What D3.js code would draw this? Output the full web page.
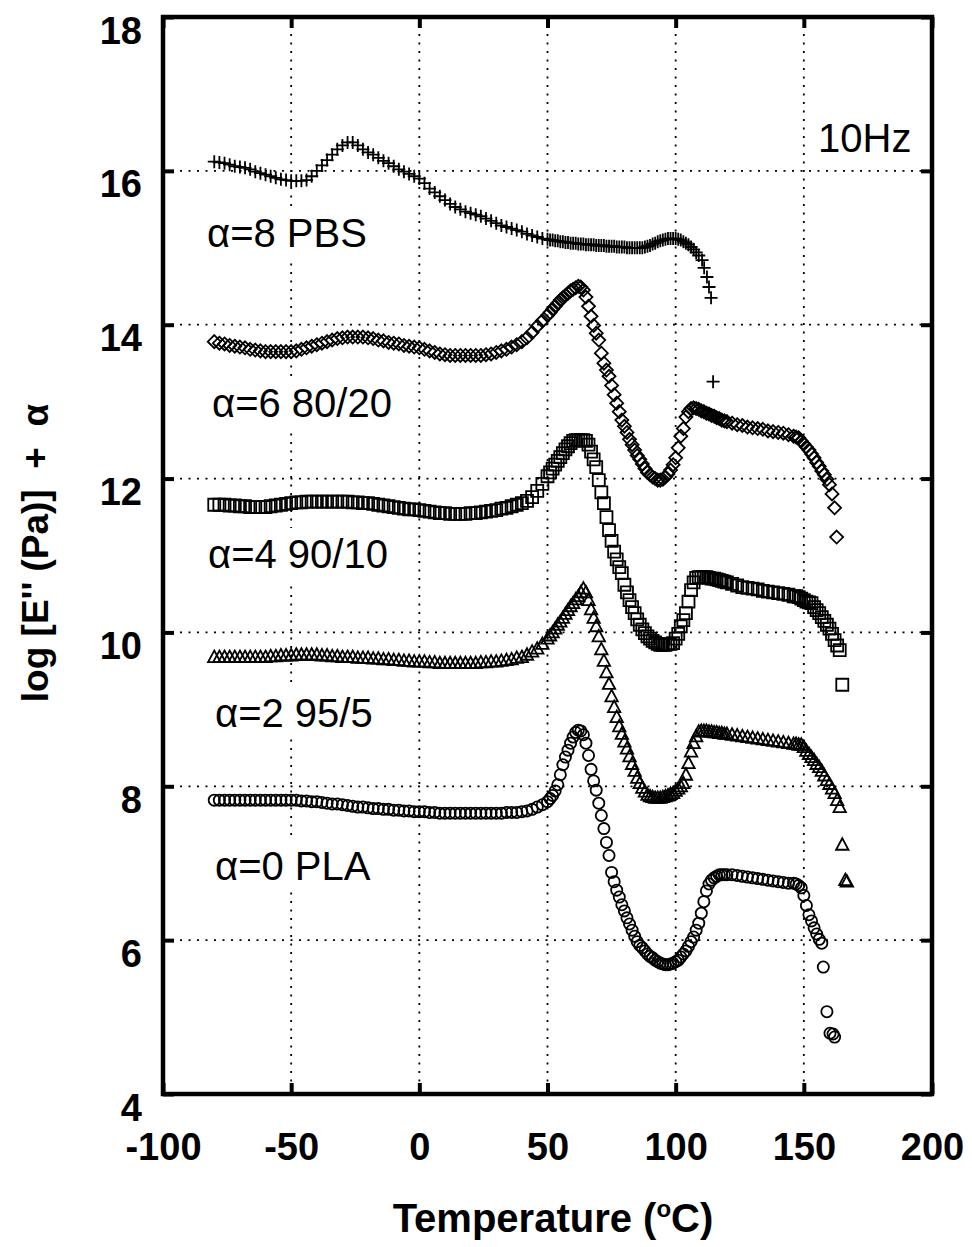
<!DOCTYPE html>
<html>
<head>
<meta charset="utf-8">
<script src="https://cdn.jsdelivr.net/npm/d3@7/dist/d3.min.js"></script>
<style>
  body { margin: 0; background: #fff; }
  svg { display: block; }
  text { font-family: "Liberation Sans", Arial, sans-serif; }
</style>
</head>
<body>
<svg id="chart" width="972" height="1247"></svg>
<script>
// Temperature sweep (°C) shared by all five curves
const temps = [
  -80,-78,-76,-74,-72,-70,-68,-66,-64,-62,-60,-58,-56,-54,-52,-50,-48,-46,-44,-42,
  -40,-38,-36,-34,-32,-30,-28,-26,-24,-22,-20,-18,-16,-14,-12,-10,-8,-6,-4,-2,
  0,2,4,6,8,10,12,14,16,18,20,22,24,26,28,30,32,34,36,38,40,42,44,46,48,50,
  51,52,53,54,55,56,57,58,59,60,61,62,63,64,65,66,67,68,69,70,
  71,72,73,74,75,76,77,78,79,80,81,82,83,84,85,86,87,88,89,90,
  91,92,93,94,95,96,97,98,99,100,101,102,103,104,105,106,107,108,109,110,
  111,112,113,114,115,116,117,118,119,120,
  122,124,126,128,130,132,134,136,138,140,142,144,146,
  147,148,149,150,151,152,153,154,155,156,157,158,159,160,161,162,163,164
];

// log E'' + alpha, one array per sample (aligned with temps)
const pbs = [
  16.12,16.11,16.10,16.08,16.06,16.05,16.04,16.02,15.99,15.97,
  15.95,15.93,15.91,15.89,15.88,15.87,15.87,15.87,15.88,15.93,
  16.00,16.07,16.14,16.21,16.28,16.33,16.37,16.37,16.33,16.28,
  16.24,16.21,16.17,16.13,16.10,16.06,16.02,15.99,15.96,15.93,
  15.90,15.84,15.77,15.72,15.67,15.62,15.57,15.53,15.50,15.47,
  15.45,15.43,15.41,15.38,15.35,15.32,15.29,15.27,15.25,15.23,
  15.21,15.18,15.16,15.14,15.12,15.11,
  15.10,15.10,15.09,15.09,15.08,15.08,15.07,15.07,15.06,15.06,
  15.06,15.05,15.05,15.05,15.04,15.04,15.04,15.04,15.03,15.03,
  15.03,15.03,15.02,15.02,15.02,15.02,15.01,15.01,15.01,15.01,
  15.00,15.00,15.00,15.00,15.00,15.00,15.00,15.01,15.02,15.03,
  15.05,15.06,15.08,15.09,15.10,15.11,15.12,15.12,15.12,15.12,
  15.11,15.10,15.08,15.06,15.04,15.01,14.98,14.94,14.90
];
const pbsTail = [[110.3,14.84],[111.1,14.74],[112.2,14.62],[113.0,14.49],[113.8,14.35],[114.6,13.26]];

const blend8020 = [
  13.78,13.76,13.75,13.73,13.72,13.71,13.70,13.68,13.67,13.66,
  13.65,13.65,13.65,13.65,13.65,13.65,13.66,13.68,13.70,13.72,
  13.74,13.76,13.78,13.80,13.82,13.83,13.84,13.84,13.84,13.84,
  13.83,13.82,13.80,13.79,13.77,13.76,13.75,13.73,13.72,13.71,
  13.70,13.68,13.66,13.64,13.62,13.61,13.60,13.60,13.60,13.60,
  13.60,13.60,13.60,13.61,13.62,13.64,13.66,13.68,13.71,13.74,
  13.78,13.83,13.90,13.98,14.05,14.12,
  14.16,14.20,14.24,14.28,14.32,14.35,14.38,14.41,14.44,14.46,
  14.48,14.50,14.49,14.45,14.36,14.24,14.11,13.99,13.89,13.80,
  13.63,13.50,13.41,13.33,13.21,13.09,12.98,12.87,12.76,12.68,
  12.60,12.51,12.44,12.37,12.30,12.25,12.19,12.13,12.08,12.05,
  12.02,12.00,11.98,11.98,11.99,12.02,12.06,12.11,12.18,12.27,
  12.40,12.55,12.65,12.80,12.87,12.91,12.92,12.91,12.90,12.88,
  12.87,12.85,12.84,12.82,12.81,12.79,12.78,12.76,12.75,12.74,
  12.72,12.70,12.69,12.67,12.66,12.65,12.64,12.62,12.61,12.60,12.59,12.57,12.55,
  12.54,12.53,12.49,12.45,12.41,12.37,12.32,12.27,12.21,12.16,12.10,12.05,11.99,11.92,11.80,11.62
];
const blend8020Tail = [[162.8,11.24]];

const blend9010 = [
  11.66,11.66,11.66,11.65,11.65,11.64,11.64,11.63,11.63,11.63,
  11.63,11.64,11.65,11.66,11.67,11.68,11.69,11.69,11.70,11.70,
  11.70,11.70,11.70,11.70,11.70,11.70,11.70,11.69,11.69,11.68,
  11.68,11.67,11.66,11.65,11.64,11.63,11.62,11.61,11.60,11.60,
  11.59,11.58,11.57,11.56,11.55,11.55,11.54,11.54,11.54,11.54,
  11.55,11.55,11.56,11.57,11.58,11.59,11.61,11.62,11.64,11.66,
  11.68,11.71,11.76,11.84,11.93,12.03,
  12.08,12.13,12.18,12.23,12.28,12.33,12.38,12.42,12.46,12.49,
  12.50,12.50,12.50,12.50,12.49,12.44,12.35,12.25,12.15,11.98,
  11.82,11.68,11.50,11.33,11.19,11.05,10.95,10.85,10.77,10.62,
  10.52,10.42,10.33,10.25,10.17,10.10,10.04,9.99,9.95,9.92,
  9.89,9.87,9.85,9.84,9.84,9.84,9.85,9.85,9.86,9.92,
  9.98,10.08,10.16,10.25,10.40,10.55,10.65,10.71,10.72,10.72,
  10.72,10.72,10.71,10.70,10.70,10.69,10.68,10.67,10.66,10.65,
  10.63,10.61,10.59,10.58,10.57,10.56,10.54,10.53,10.52,10.51,10.50,10.49,10.47,
  10.47,10.46,10.44,10.42,10.40,10.39,10.38,10.33,10.29,10.25,10.20,10.15,10.10,10.05,9.98,9.90,9.83,9.77
];
const blend9010Tail = [[165.0,9.32]];

const blend955 = [
  9.68,9.68,9.68,9.68,9.68,9.68,9.68,9.68,9.68,9.68,
  9.68,9.69,9.69,9.70,9.70,9.70,9.71,9.71,9.71,9.71,
  9.71,9.70,9.70,9.69,9.69,9.68,9.68,9.68,9.67,9.67,
  9.67,9.66,9.66,9.65,9.65,9.64,9.64,9.63,9.63,9.62,
  9.62,9.62,9.61,9.61,9.60,9.60,9.60,9.60,9.60,9.60,
  9.60,9.60,9.61,9.61,9.62,9.62,9.63,9.64,9.65,9.67,
  9.68,9.71,9.75,9.79,9.85,9.92,
  9.96,10.00,10.05,10.10,10.14,10.19,10.24,10.29,10.34,10.38,
  10.43,10.47,10.52,10.57,10.52,10.42,10.30,10.19,10.08,9.95,
  9.78,9.63,9.48,9.33,9.17,9.03,8.90,8.78,8.68,8.58,
  8.49,8.39,8.29,8.20,8.11,8.04,7.98,7.93,7.89,7.87,
  7.86,7.85,7.85,7.85,7.86,7.87,7.88,7.90,7.91,7.94,
  7.97,8.00,8.04,8.15,8.30,8.45,8.56,8.65,8.71,8.72,
  8.72,8.72,8.71,8.71,8.70,8.70,8.69,8.69,8.68,8.68,
  8.67,8.66,8.65,8.64,8.63,8.62,8.61,8.60,8.59,8.58,8.57,8.56,8.55,
  8.55,8.54,8.54,8.51,8.46,8.42,8.38,8.34,8.29,8.25,8.20,8.14,8.08,8.03,7.97,7.91,7.82,7.73
];
const blend955Tail = [[165.0,7.24],[166.2,6.78],[166.8,6.76]];

const pla = [
  7.82,7.82,7.82,7.82,7.82,7.82,7.82,7.82,7.82,7.82,
  7.82,7.82,7.82,7.82,7.82,7.82,7.82,7.81,7.81,7.80,
  7.80,7.79,7.78,7.77,7.77,7.76,7.75,7.74,7.73,7.73,
  7.72,7.71,7.71,7.70,7.70,7.69,7.69,7.68,7.68,7.67,
  7.67,7.67,7.66,7.66,7.65,7.65,7.65,7.65,7.65,7.65,
  7.65,7.65,7.65,7.65,7.65,7.65,7.65,7.66,7.66,7.66,
  7.67,7.68,7.70,7.73,7.76,7.80,
  7.84,7.88,7.94,8.02,8.15,8.28,8.38,8.47,8.56,8.64,
  8.70,8.73,8.72,8.67,8.56,8.40,8.22,8.07,7.95,7.78,
  7.62,7.45,7.27,7.10,6.88,6.76,6.65,6.56,6.46,6.38,
  6.29,6.21,6.13,6.05,5.98,5.93,5.90,5.86,5.82,5.79,
  5.77,5.74,5.72,5.70,5.69,5.68,5.68,5.69,5.70,5.72,
  5.74,5.78,5.82,5.86,5.92,5.98,6.04,6.13,6.22,6.35,
  6.50,6.64,6.73,6.78,6.81,6.83,6.85,6.85,6.85,6.85,
  6.85,6.84,6.83,6.82,6.81,6.80,6.79,6.78,6.77,6.76,6.75,6.74,6.74,
  6.73,6.71,6.68,6.58,6.45,6.33,6.25,6.16,6.08,6.01,5.96
];
const plaTail = [[157.6,5.65],[159.0,5.07],[160.2,4.79],[161.4,4.78],[162.0,4.74]];

const xTicks = [-100,-50,0,50,100,150,200];
const yTicks = [4,6,8,10,12,14,16,18];
const curveLabels = ["\u03b1=8 PBS","\u03b1=6 80/20","\u03b1=4 90/10","\u03b1=2 95/5","\u03b1=0 PLA"];
const freqLabel = "10Hz";

// ---- drawing ----
const svg = d3.select("#chart");
const x = d3.scaleLinear().domain([-100,200]).range([163,932]);
const y = d3.scaleLinear().domain([4,18]).range([1094,17]);

// dotted grid
const grid = svg.append("g").attr("stroke","#000").attr("stroke-width",1.8)
  .attr("stroke-dasharray","2,6.5").attr("fill","none");
grid.selectAll("line.v").data(xTicks.slice(1,-1)).join("line")
  .attr("x1",d=>x(d)).attr("x2",d=>x(d)).attr("y1",y(18)).attr("y2",y(4));
grid.selectAll("line.h").data(yTicks.slice(1,-1)).join("line")
  .attr("x1",x(-100)).attr("x2",x(200)).attr("y1",d=>y(d)).attr("y2",d=>y(d));

// curve labels on white boxes (they interrupt the grid)
const labelPos = [[207,247],[212,417],[208,568],[215,727],[215,880]];
const lab = svg.append("g");
curveLabels.forEach((t,i)=>{
  const g = lab.append("g");
  const r = g.append("rect").attr("fill","#fff");
  const tx = g.append("text").attr("x",labelPos[i][0]).attr("y",labelPos[i][1])
    .attr("font-size",40).attr("fill","#000").text(t);
  const b = tx.node().getBBox();
  r.attr("x",b.x-6).attr("y",b.y-4).attr("width",b.width+12).attr("height",b.height+8);
});
svg.append("text").attr("x",818).attr("y",152).attr("font-size",40).text(freqLabel);

// marker shapes
const shapes = {
  plus:     "M-6.5,0H6.5M0,-6.5V6.5",
  diamond:  "M0,-6.5L6.5,0L0,6.5L-6.5,0Z",
  square:   "M-6,-6H6V6H-6Z",
  triangle: "M0,-6.5L6.2,5L-6.2,5Z",
  circle:   d3.symbol(d3.symbolCircle, Math.PI*5.6*5.6)()
};

const series = [
  {vals: pbs,        tail: pbsTail,        shape: "plus"},
  {vals: blend8020,  tail: blend8020Tail,  shape: "diamond"},
  {vals: blend9010,  tail: blend9010Tail,  shape: "square"},
  {vals: blend955,   tail: blend955Tail,   shape: "triangle"},
  {vals: pla,        tail: plaTail,        shape: "circle"}
];

const marks = svg.append("g").attr("fill","none").attr("stroke","#000").attr("stroke-width",1.8);
series.forEach(s=>{
  const pts = s.vals.map((v,i)=>[temps[i],v]).concat(s.tail);
  marks.append("g").selectAll("path").data(pts).join("path")
    .attr("d",shapes[s.shape])
    .attr("transform",d=>`translate(${x(d[0])},${y(d[1])})`);
});

// axes: ticks point inward on all four sides
const axes = svg.append("g");
const styleAxis = g => {
  g.select(".domain").remove();
  g.selectAll(".tick line").attr("stroke","#000").attr("stroke-width",4);
};
const tickFont = g => g.selectAll(".tick text")
  .attr("font-size",38).attr("font-weight","bold").attr("fill","#000")
  .attr("font-family","'Liberation Sans', Arial, sans-serif");
axes.append("g").attr("transform",`translate(0,${y(4)})`)
  .call(d3.axisBottom(x).tickValues(xTicks).tickSize(-11).tickFormat(d=>String(d)))
  .call(styleAxis)
  .call(g=>g.selectAll(".tick text").attr("y",66).attr("dy",null))
  .call(tickFont);
axes.append("g").attr("transform",`translate(0,${y(18)})`)
  .call(d3.axisTop(x).tickValues(xTicks).tickSize(-11).tickFormat(""))
  .call(styleAxis);
axes.append("g").attr("transform",`translate(${x(-100)},0)`)
  .call(d3.axisLeft(y).tickValues(yTicks).tickSize(-11).tickPadding(21).tickFormat(d=>String(d)))
  .call(styleAxis)
  .call(g=>g.selectAll(".tick text").attr("dy",null).attr("y",26))
  .call(tickFont);
axes.append("g").attr("transform",`translate(${x(200)},0)`)
  .call(d3.axisRight(y).tickValues(yTicks).tickSize(-11).tickFormat(""))
  .call(styleAxis);

// frame
svg.append("rect").attr("x",x(-100)).attr("y",y(18))
  .attr("width",x(200)-x(-100)).attr("height",y(4)-y(18))
  .attr("fill","none").attr("stroke","#000").attr("stroke-width",4.5);

// axis titles
const xt = svg.append("text").attr("x",553).attr("y",1232).attr("text-anchor","middle")
  .attr("font-size",40).attr("font-weight","bold");
xt.append("tspan").text("Temperature (");
xt.append("tspan").attr("font-size",24).attr("dy",-15).text("o");
xt.append("tspan").attr("dy",15).text("C)");

svg.append("text").attr("transform","translate(48,553) rotate(-90)")
  .attr("text-anchor","middle").attr("font-size",37).attr("font-weight","bold")
  .style("white-space","pre").text("log [E'' (Pa)]  +  \u03b1");
</script>
</body>
</html>
